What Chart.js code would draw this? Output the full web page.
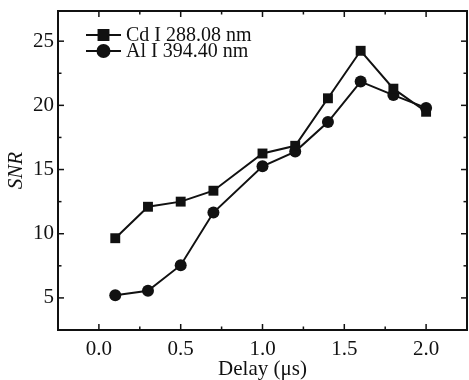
<!DOCTYPE html>
<html>
<head>
<meta charset="utf-8">
<script src="https://cdn.jsdelivr.net/npm/chart.js@4.4.0/dist/chart.umd.min.js"></script>
<style>
	html, body { margin: 0; padding: 0; background: #fff; }
	canvas { display: block; }
</style>
</head>
<body>
<canvas id="snrChart" width="469" height="380"></canvas>
<script>
// delay times (µs) and signal-to-noise ratios
const delays = [0.1, 0.3, 0.5, 0.7, 1.0, 1.2, 1.4, 1.6, 1.8, 2.0]
const cdSNR = [9.65, 12.1, 12.5, 13.35, 16.25, 16.85, 20.55, 24.25, 21.3, 19.5]
const alSNR = [5.2, 5.55, 7.55, 11.65, 15.25, 16.4, 18.7, 21.85, 20.8, 19.8]
const seriesNames = ['Cd I 288.08 nm', 'Al I 394.40 nm']
const xTicks = [0.0, 0.5, 1.0, 1.5, 2.0]
const xMinorTicks = [0.25, 0.75, 1.25, 1.75]
const yTicks = [5, 10, 15, 20, 25]
const yMinorTicks = [7.5, 12.5, 17.5, 22.5]

const ink = '#111'
const serif = 'Liberation Serif, Times New Roman, serif'

// inward ticks on all four sides plus the closed frame
const framePlugin = {
	id: 'frame',
	afterDraw(chart) {
		const ctx = chart.ctx
		const a = chart.chartArea
		const xs = chart.scales.x
		const ys = chart.scales.y
		ctx.save()
		ctx.strokeStyle = ink
		ctx.lineWidth = 1.5
		const tick = (x1, y1, x2, y2) => {
			ctx.beginPath()
			ctx.moveTo(x1, y1)
			ctx.lineTo(x2, y2)
			ctx.stroke()
		}
		xTicks.forEach(v => {
			const px = xs.getPixelForValue(v)
			tick(px, a.bottom, px, a.bottom - 6)
			tick(px, a.top, px, a.top + 6)
		})
		xMinorTicks.forEach(v => {
			const px = xs.getPixelForValue(v)
			tick(px, a.bottom, px, a.bottom - 3.5)
			tick(px, a.top, px, a.top + 3.5)
		})
		yTicks.forEach(v => {
			const py = ys.getPixelForValue(v)
			tick(a.left, py, a.left + 6, py)
			tick(a.right, py, a.right - 6, py)
		})
		yMinorTicks.forEach(v => {
			const py = ys.getPixelForValue(v)
			tick(a.left, py, a.left + 3.5, py)
			tick(a.right, py, a.right - 3.5, py)
		})
		ctx.lineWidth = 2
		ctx.strokeRect(a.left, a.top, a.right - a.left, a.bottom - a.top)
		ctx.restore()
	}
}

// legend in the upper left corner: line with marker, then the label
const legendPlugin = {
	id: 'innerLegend',
	afterDatasetsDraw(chart) {
		const ctx = chart.ctx
		const a = chart.chartArea
		ctx.save()
		chart.data.datasets.forEach((ds, i) => {
			const y = a.top + 24 + i * 16
			const x0 = a.left + 28
			const x1 = x0 + 35
			ctx.strokeStyle = ink
			ctx.lineWidth = 2
			ctx.beginPath()
			ctx.moveTo(x0, y)
			ctx.lineTo(x1, y)
			ctx.stroke()
			ctx.fillStyle = ink
			Chart.helpers.drawPoint(ctx, {
				pointStyle: ds.pointStyle,
				radius: ds.pointRadius,
				borderWidth: 1
			}, (x0 + x1) / 2, y)
			ctx.fillStyle = ink
			ctx.font = '20px ' + serif
			ctx.textAlign = 'left'
			ctx.textBaseline = 'middle'
			ctx.fillText(ds.label, x1 + 5, y + 1)
		})
		ctx.restore()
	}
}

const toPoints = ys => delays.map((d, i) => ({ x: d, y: ys[i] }))

// fixed box sizes, and no extra room reserved for edge tick labels
const fixBox = size => s => {
	if (s.isHorizontal()) s.height = size
	else s.width = size
	s.paddingTop = 0
	s.paddingBottom = 0
	s.paddingLeft = 0
	s.paddingRight = 0
}

new Chart(document.getElementById('snrChart'), {
	type: 'line',
	data: {
		datasets: [{
			label: seriesNames[0],
			data: toPoints(cdSNR),
			borderColor: ink,
			backgroundColor: ink,
			borderWidth: 2,
			pointStyle: 'rect',
			pointRadius: 7,
			pointBorderWidth: 0,
			tension: 0
		}, {
			label: seriesNames[1],
			data: toPoints(alSNR),
			borderColor: ink,
			backgroundColor: ink,
			borderWidth: 2,
			pointStyle: 'circle',
			pointRadius: 6,
			pointBorderWidth: 0,
			tension: 0
		}]
	},
	options: {
		responsive: false,
		animation: false,
		layout: { autoPadding: false, padding: { top: 11, right: 2, left: 0, bottom: 0 } },
		plugins: {
			legend: { display: false },
			tooltip: { enabled: false }
		},
		scales: {
			x: {
				type: 'linear',
				min: -0.25,
				max: 2.25,
				afterBuildTicks: s => { s.ticks = xTicks.map(v => ({ value: v })) },
				afterFit: fixBox(50),
				grid: { display: false, drawTicks: false },
				border: { display: false },
				ticks: {
					color: ink,
					padding: 7,
					font: { family: serif, size: 21 },
					callback: v => v.toFixed(1)
				},
				title: {
					display: true,
					text: 'Delay (\u03bcs)',
					color: ink,
					font: { family: serif, size: 21, lineHeight: 1 },
					padding: { top: -4, bottom: 0 }
				}
			},
			y: {
				min: 2.5,
				max: 27.35,
				afterBuildTicks: s => { s.ticks = yTicks.map(v => ({ value: v })) },
				afterFit: fixBox(58),
				grid: { display: false, drawTicks: false },
				border: { display: false },
				ticks: {
					color: ink,
					padding: 4,
					font: { family: serif, size: 21 }
				},
				title: {
					display: true,
					text: 'SNR',
					color: ink,
					font: { family: serif, size: 21, style: 'italic' },
					padding: { top: 4, bottom: 0 }
				}
			}
		}
	},
	plugins: [framePlugin, legendPlugin]
})
</script>
</body>
</html>
